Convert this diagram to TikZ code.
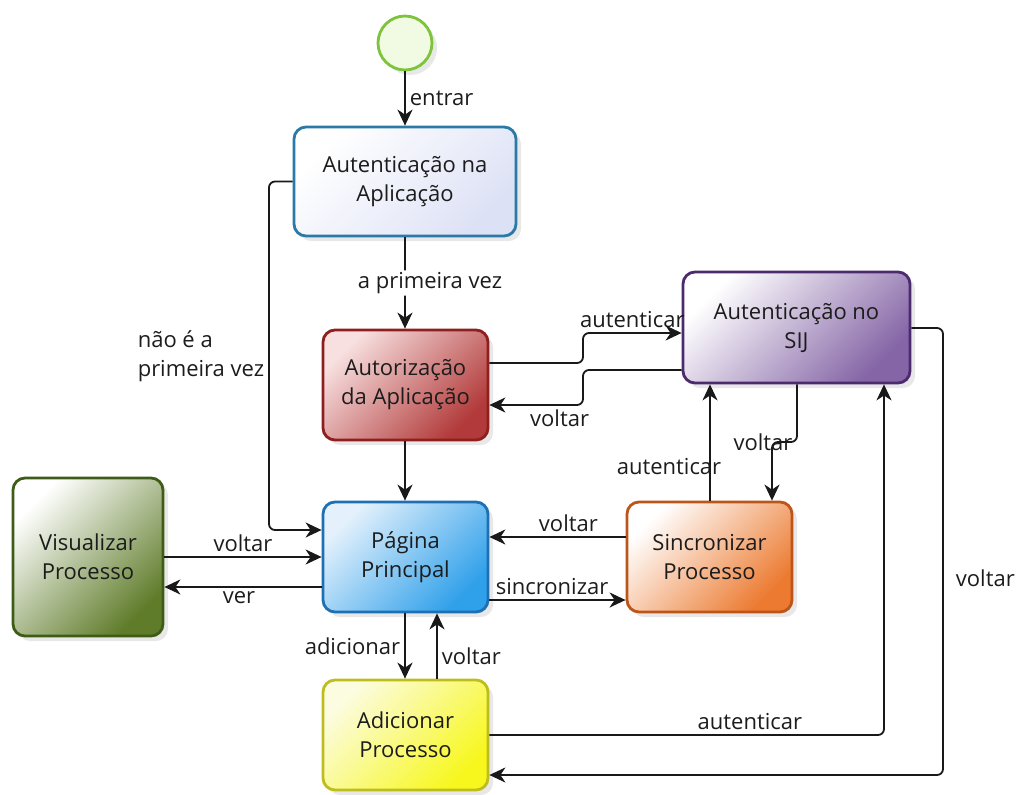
\documentclass[tikz,border=0pt]{standalone}
\usepackage{fontspec}
\setmainfont{Open Sans}
\usetikzlibrary{arrows.meta,positioning,shadows}

\definecolor{txtdark}{HTML}{1C1C1C}
\definecolor{authline}{HTML}{2B79A6}
\definecolor{authfill}{HTML}{DDE1F5}
\definecolor{autzline}{HTML}{8E1F1F}
\definecolor{autzlight}{HTML}{F8E0E0}
\definecolor{autzfill}{HTML}{B23A3A}
\definecolor{sijline}{HTML}{4B2A6E}
\definecolor{sijfill}{HTML}{8565A6}
\definecolor{visline}{HTML}{3F5C17}
\definecolor{visfill}{HTML}{5F7C2A}
\definecolor{mainline}{HTML}{1F6FB3}
\definecolor{mainlight}{HTML}{E4F1FC}
\definecolor{mainfill}{HTML}{2FA0EA}
\definecolor{syncline}{HTML}{BC551A}
\definecolor{syncfill}{HTML}{EC7A30}
\definecolor{addline}{HTML}{BDBD1E}
\definecolor{addlight}{HTML}{FCFCE0}
\definecolor{addfill}{HTML}{F7F71E}
\definecolor{startline}{HTML}{7DC33B}
\definecolor{startfill}{HTML}{F1FBE3}

\begin{document}
\begin{tikzpicture}[x=0.5pt,y=-0.5pt,>={Stealth[length=8pt,width=7.5pt,inset=2.5pt]},
 font=\fontsize{11}{14.5}\selectfont,text=txtdark,
 state/.style={draw,rounded corners=6pt,line width=1.4pt,align=center,inner sep=0pt,
  minimum width=82.5pt,minimum height=55pt,
  drop shadow={shadow xshift=2.5pt,shadow yshift=-2.5pt,opacity=0.18}},
 grad/.style 2 args={top color=#1,bottom color=#2,shading angle=45},
 startev/.style={circle,draw=startline,fill=startfill,line width=1.4pt,minimum size=27pt,
  drop shadow={shadow xshift=2.5pt,shadow yshift=-2.5pt,opacity=0.18}},
 lbl/.style={inner sep=2pt},
 arr/.style={->,line width=0.9pt,rounded corners=3pt,draw=black!90}]
\useasboundingbox (0,0) rectangle (1019,794);

\node[startev] (start) at (405,43) {};
\node[state,draw=authline,grad={white}{authfill},minimum width=111pt,minimum height=54.5pt] (auth) at (405,181.5) {Autenticação na\\Aplicação};
\node[state,draw=autzline,grad={autzlight}{autzfill}] (autz) at (405.5,385) {Autorização\\da Aplicação};
\node[state,draw=sijline,grad={white}{sijfill},minimum width=113.5pt,minimum height=55.5pt] (sij) at (796.5,327.5) {Autenticação no\\SIJ};
\node[state,draw=visline,grad={white}{visfill},minimum width=75pt,minimum height=79pt] (vis) at (88,557) {Visualizar\\Processo};
\node[state,draw=mainline,grad={mainlight}{mainfill}] (main) at (405.5,557) {Página\\Principal};
\node[state,draw=syncline,grad={white}{syncfill}] (sync) at (709.5,557) {Sincronizar\\Processo};
\node[state,draw=addline,grad={addlight}{addfill}] (add) at (405.5,735) {Adicionar\\Processo};

% fluxo principal
\draw[arr] (start) -- node[lbl,right] {entrar} (start |- auth.north);
\draw[arr] (auth.south -| 405,0) -- node[lbl,fill=white,inner sep=1pt,xshift=12.5pt] {a primeira vez} (autz.north -| 405,0);
\draw[arr] (auth.west) -- (auth.west -| 269,0) -- node[lbl,left,align=left] {não é a\\primeira vez} (269,530) -- (main.west |- 0,530);
\draw[arr] (autz.south -| 405,0) -- (main.north -| 405,0);

% SIJ
\draw[arr] (autz.east |- 0,363) -- (583,363) -- (583,333) -- node[lbl,above] {autenticar} (sij.west |- 0,333);
\draw[arr] (sij.west |- 0,370) -- (583,370) -- (583,405) -- node[lbl,below,pos=0.25] {voltar} (autz.east |- 0,405);
\draw[arr] (sync.north -| 710,0) -- node[lbl,pos=0.29,xshift=-20.5pt] {autenticar} (sij.south -| 710,0);
\draw[arr] (sij.south -| 797,0) -- (797,442) -- (772,442) node[lbl,xshift=-4.5pt] {voltar} -- (sync.north -| 772,0);

% pagina principal
\draw[arr] (main.west |- 0,587) -- node[lbl,below,xshift=-2pt] {ver} (vis.east |- 0,587);
\draw[arr] (vis.east) -- node[lbl,above] {voltar} (main.west);
\draw[arr] (sync.west |- 0,537) -- node[lbl,above,pos=0.42] {voltar} (main.east |- 0,537);
\draw[arr] (main.east |- 0,600) -- node[lbl,above,pos=0.46] {sincronizar} (sync.west |- 0,600);
\draw[arr] (main.south -| 405,0) -- node[lbl,left] {adicionar} (add.north -| 405,0);
\draw[arr] (add.north -| 437,0) -- node[lbl,right,pos=0.35] {voltar} (main.south -| 437,0);

% adicionar
\draw[arr] (add.east |- 0,735) -- node[lbl,above,pos=0.66] {autenticar} (884,735) -- (sij.south -| 884,0);
\draw[arr] (sij.east |- 0,328) -- (943,328) -- node[lbl,right,pos=0.56,xshift=4pt] {voltar} (943,775) -- (add.east |- 0,775);
\end{tikzpicture}
\end{document}
